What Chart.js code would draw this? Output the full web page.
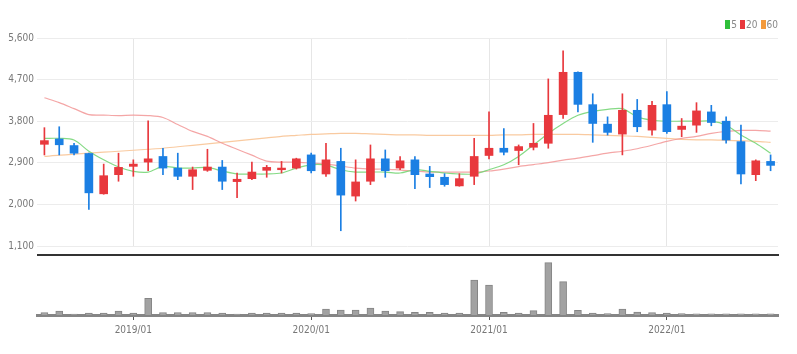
<!DOCTYPE html>
<html>
<head>
<meta charset="utf-8">
<script src="https://cdn.jsdelivr.net/npm/chart.js@4.4.0/dist/chart.umd.min.js"></script>
<style>
  body { margin: 0; background: #fff; }
  #wrap { position: relative; width: 797px; height: 354px; overflow: hidden; }
  #price { position: absolute; left: 0; top: 0; }
  #vol { position: absolute; left: 0; top: 255px; }
  #sep { position: absolute; left: 37px; top: 254px; width: 742px; height: 2px; background: #333; }
  #legend { position: absolute; right: 19px; top: 19px; font: 10px 'Liberation Sans Narrow', 'DejaVu Sans Condensed', sans-serif; color: #888; white-space: nowrap; }
  #legend i { display: inline-block; width: 5px; height: 9px; margin: 0 1px 0 3px; vertical-align: -1px; }
</style>
</head>
<body>
<div id="wrap">
  <canvas id="price" width="797" height="255"></canvas>
  <div id="sep"></div>
  <canvas id="vol" width="797" height="99"></canvas>
  <div id="legend"><i style="background:#2fbf3a"></i>5<i style="background:#e8383d"></i>20<i style="background:#f39a3c"></i>60</div>
</div>
<script>
const labels = [
  '2018/07','2018/08','2018/09','2018/10','2018/11','2018/12',
  '2019/01','2019/02','2019/03','2019/04','2019/05','2019/06','2019/07','2019/08','2019/09','2019/10','2019/11','2019/12',
  '2020/01','2020/02','2020/03','2020/04','2020/05','2020/06','2020/07','2020/08','2020/09','2020/10','2020/11','2020/12',
  '2021/01','2021/02','2021/03','2021/04','2021/05','2021/06','2021/07','2021/08','2021/09','2021/10','2021/11','2021/12',
  '2022/01','2022/02','2022/03','2022/04','2022/05','2022/06','2022/07','2022/08'
];
const opens  = [3300,3415,3273,3101,2229,2643, 2823,2915,3037,2786,2608,2737,2808,2493,2557,2737,2750,2786,
                3071,2658,2930,2180,2501,2986,2786,2964,2658,2587,2400,2608, 3058,3215,3166,3236,3322,3943,4858,4158,3736,3521,4036,3607,
                4158,3622,3714,4001,3800,3358,2643,2930];
const highs  = [3660,3680,3322,3110,2872,3108, 2964,3808,3215,3108,2808,3193,2951,2679,2915,2844,2930,3000,
                3108,3322,3215,2964,3286,3178,3037,3037,2823,2665,2665,3429, 4001,3643,3286,3751,4715,5321,4870,4393,3894,4393,4271,4228,
                4443,3858,4201,4143,3894,3714,2964,3071];
const lows   = [3070,3070,3071,1893,2220,2501, 2608,2728,2643,2535,2321,2715,2321,2143,2535,2587,2679,2765,
                2679,2608,1430,2073,2428,2587,2750,2343,2364,2393,2393,2428, 2986,3071,2857,3178,3215,3858,4001,3343,3500,3071,3572,3500,
                3536,3465,3558,3701,3322,2443,2513,2728];
const closes = [3380,3290,3108,2250,2621,2801, 2872,2986,2786,2608,2750,2808,2501,2544,2700,2801,2786,2986,
                2728,2964,2201,2486,2986,2728,2943,2643,2600,2428,2557,3037, 3215,3129,3251,3322,3928,4858,4164,3751,3558,4036,3680,4143,
                3573,3693,4023,3772,3393,2658,2943,2844];
const ma5  = [3429,3429,3393,3150,2964,2808, 2716,2700,2823,2786,2786,2801,2722,2658,2658,2658,2679,2786,
              2857,2850,2750,2700,2700,2700,2679,2750,2716,2679,2658,2658, 2750,2857,3037,3286,3536,3751,3928,4014,4057,4072,3894,3821,
              3800,3800,3800,3800,3714,3500,3322,3108];
const ma20 = [4308,4201,4072,3943,3933,3922, 3933,3922,3879,3729,3579,3472,3322,3193,3065,2936,2915,2915,
              2893,2872,2829,2786,2765,2765,2743,2722,2700,2700,2700,2700, 2722,2765,2818,2861,2904,2958,3001,3054,3108,3150,3204,3279,
              3365,3429,3472,3536,3579,3601,3601,3586];
const ma60 = [3037,3065,3086,3108,3129,3150, 3172,3193,3215,3247,3279,3311,3343,3376,3408,3440,3472,3493,
              3515,3525,3536,3536,3525,3515,3504,3504,3493,3493,3493,3493, 3493,3504,3504,3515,3515,3515,3515,3504,3493,3483,3472,3451,
              3429,3408,3397,3397,3386,3376,3365,3343];
const volumes = [250,400,100,200,200,400, 200,1670,250,250,250,250,200,100,200,200,200,200,
                 150,600,500,500,700,400,330,270,270,200,200,3500, 3000,270,200,430,5230,3330,470,200,150,600,300,250,
                 200,150,120,120,120,120,120,120];

const axisFont = { family: "'Liberation Sans Narrow', 'DejaVu Sans Condensed', sans-serif", size: 10 };
const UP = '#e8383d', DOWN = '#1b7fe3';
const candleColors = closes.map((c, i) => c >= opens[i] ? UP : DOWN);
const isJan = i => labels[i] && labels[i].endsWith('/01');

new Chart(document.getElementById('price'), {
  type: 'bar',
  data: {
    labels: labels,
    datasets: [
      { label: 'body', data: opens.map((o, i) => [o, closes[i]]), backgroundColor: candleColors,
        barThickness: 8, grouped: false, order: 0 },
      { label: 'wick', data: lows.map((l, i) => [l, highs[i]]), backgroundColor: candleColors,
        barThickness: 1, grouped: false, order: 1 },
      { type: 'line', label: '5', data: ma5, borderColor: 'rgba(120,214,120,0.9)', borderWidth: 1.2,
        pointRadius: 0, tension: 0.3, order: 2 },
      { type: 'line', label: '20', data: ma20, borderColor: 'rgba(242,150,150,0.85)', borderWidth: 1.2,
        pointRadius: 0, tension: 0.3, order: 3 },
      { type: 'line', label: '60', data: ma60, borderColor: 'rgba(248,196,150,0.9)', borderWidth: 1.2,
        pointRadius: 0, tension: 0.3, order: 4 }
    ]
  },
  options: {
    responsive: false,
    animation: false,
    layout: { padding: { top: 38, right: 19, left: 0, bottom: 0 } },
    plugins: { legend: { display: false }, tooltip: { enabled: false } },
    scales: {
      x: {
        offset: true,
        grid: { offset: false, drawTicks: false, color: ctx => isJan(ctx.index) ? '#e6e6e6' : 'rgba(0,0,0,0)' },
        ticks: { display: false },
        border: { display: false },
        afterFit: s => { s.height = 7; }
      },
      y: {
        min: 1100, max: 5600,
        ticks: { stepSize: 900, color: '#777', font: axisFont, padding: 3 },
        grid: { color: '#ececec', drawTicks: false },
        border: { display: false },
        afterFit: s => { s.width = 37; }
      }
    }
  }
});

new Chart(document.getElementById('vol'), {
  type: 'bar',
  data: {
    labels: labels,
    datasets: [{ label: 'volume', data: volumes, backgroundColor: '#a2a2a2', borderColor: '#858585',
      borderWidth: 1, barThickness: 7 }]
  },
  options: {
    responsive: false,
    animation: false,
    layout: { padding: { top: 7, right: 19, left: 37, bottom: 0 } },
    plugins: { legend: { display: false }, tooltip: { enabled: false } },
    scales: {
      x: {
        offset: true,
        grid: { offset: false, drawOnChartArea: false, tickLength: 5,
                color: ctx => isJan(ctx.index) ? '#555' : 'rgba(0,0,0,0)' },
        border: { color: '#858585', width: 3 },
        ticks: { autoSkip: false, maxRotation: 0, color: '#777', font: axisFont, padding: 4,
                 callback: (v, i) => isJan(i) ? labels[i] : '' },
        afterFit: s => { s.height = 39; }
      },
      y: { display: false, min: 0, max: 5300 }
    }
  }
});
</script>
</body>
</html>
